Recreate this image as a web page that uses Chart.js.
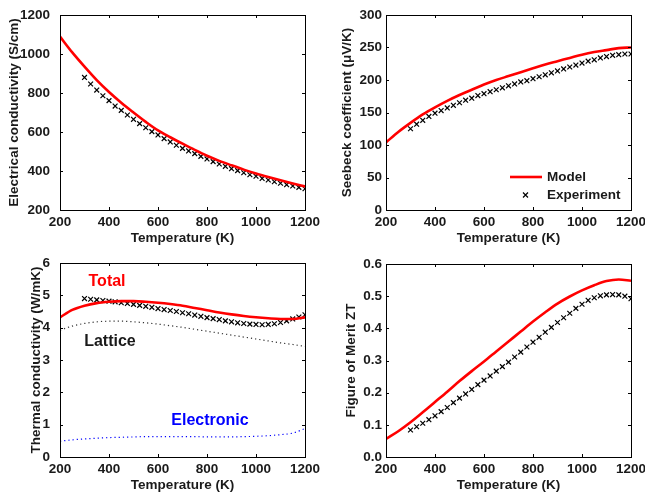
<!DOCTYPE html>
<html>
<head>
<meta charset="utf-8">
<script src="https://cdn.jsdelivr.net/npm/chart.js@4.4.1/dist/chart.umd.min.js"></script>
<style>
    body { margin: 0; background: #fff; width: 645px; height: 494px; position: relative; overflow: hidden; }
    canvas { position: absolute; }
</style>
</head>
<body>
<canvas id="cond" width="325" height="247" style="left:0;top:0"></canvas>
<canvas id="seebeck" width="325" height="247" style="left:320px;top:0"></canvas>
<canvas id="thermal" width="325" height="247" style="left:0;top:247px"></canvas>
<canvas id="zt" width="325" height="247" style="left:320px;top:247px"></canvas>
<script>
// temperatures (K)
var modelT = [200, 250, 300, 350, 400, 450, 500, 550, 600, 650, 700, 750, 800, 850, 900, 950, 1000, 1050, 1100, 1150, 1200];
var expT = [300, 325, 350, 375, 400, 425, 450, 475, 500, 525, 550, 575, 600, 625, 650, 675, 700, 725, 750, 775, 800,
    825, 850, 875, 900, 925, 950, 975, 1000, 1025, 1050, 1075, 1100, 1125, 1150, 1175, 1200];

// electrical conductivity (S/cm)
var condModel = [1089, 1008, 935, 866, 805, 750, 700, 652, 608, 573, 540, 508, 478, 452, 429, 407, 387, 369, 352, 336, 321];
var condExp = [880, 846, 815, 786, 761, 733, 711, 687, 665, 643, 622, 602, 585, 566, 549, 532, 516, 503, 489, 475, 462,
    448, 436, 424, 412, 402, 391, 381, 373, 362, 354, 345, 337, 330, 323, 316, 309];

// seebeck coefficient (uV/K)
var seebeckModel = [104, 120, 134, 147, 158, 168, 177, 185, 193, 200, 206, 212, 218, 224, 229, 234, 239, 243, 246, 249, 250];
var seebeckExp = [125, 132, 138, 144, 149, 153, 157, 161, 165, 169, 172, 176, 179, 182, 185, 188, 191, 194, 197, 199, 202,
    205, 208, 211, 214, 217, 220, 223, 226, 229, 231, 234, 236, 238, 239, 240, 240];

// thermal conductivity (W/mK)
var kTotal = [4.32, 4.55, 4.68, 4.76, 4.80, 4.82, 4.82, 4.80, 4.77, 4.73, 4.68, 4.61, 4.54, 4.47, 4.41, 4.36, 4.32, 4.29, 4.27, 4.27, 4.32];
var kLattice = [3.92, 4.05, 4.13, 4.18, 4.20, 4.20, 4.18, 4.15, 4.11, 4.06, 4.01, 3.95, 3.89, 3.83, 3.77, 3.71, 3.65, 3.59, 3.53, 3.48, 3.42];
var kElectronic = [0.49, 0.53, 0.56, 0.58, 0.60, 0.61, 0.62, 0.63, 0.63, 0.63, 0.63, 0.63, 0.62, 0.62, 0.62, 0.63, 0.64, 0.66, 0.69, 0.74, 0.88];
var kExp = [4.90, 4.88, 4.86, 4.84, 4.82, 4.80, 4.77, 4.75, 4.72, 4.69, 4.66, 4.63, 4.59, 4.56, 4.53, 4.50, 4.46, 4.43, 4.39, 4.35, 4.31,
    4.28, 4.25, 4.21, 4.18, 4.15, 4.13, 4.11, 4.10, 4.09, 4.10, 4.12, 4.16, 4.21, 4.27, 4.33, 4.40];

// figure of merit
var ztModel = [0.056, 0.080, 0.108, 0.139, 0.171, 0.203, 0.236, 0.267, 0.297, 0.328, 0.359, 0.390, 0.421, 0.450, 0.477, 0.499, 0.518, 0.534, 0.547, 0.552, 0.548];
var ztExp = [0.084, 0.094, 0.105, 0.116, 0.128, 0.141, 0.154, 0.169, 0.183, 0.196, 0.210, 0.225, 0.239, 0.252, 0.267, 0.281, 0.295,
    0.311, 0.326, 0.342, 0.357, 0.372, 0.388, 0.403, 0.418, 0.433, 0.447, 0.462, 0.475, 0.487, 0.495, 0.501, 0.504, 0.505, 0.504, 0.500, 0.492];

var FONT = 'Liberation Sans, Arial, Helvetica, sans-serif';
var INK = '#1a1a1a';

function pts(xs, ys) {
    return xs.map(function (x, i) { return {x: x, y: ys[i]}; });
}

function modelLine(label, ys, color, dash) {
    return {
        label: label, data: pts(modelT, ys),
        borderColor: color, borderWidth: dash ? 1.2 : 2.6, borderDash: dash || [],
        pointRadius: 0, cubicInterpolationMode: 'monotone', fill: false
    };
}

function expMarks(ys) {
    return {
        label: 'Experiment', data: pts(expT, ys), showLine: false,
        pointStyle: 'crossRot', pointRadius: 3.4, borderColor: '#000', backgroundColor: '#000', borderWidth: 1.2
    };
}

// matlab style box with inward ticks
var boxTicks = {
    id: 'boxTicks',
    afterDraw: function (chart) {
        var ctx = chart.ctx, a = chart.chartArea, len = 3;
        var xs = chart.scales.x, ys = chart.scales.y;
        ctx.save();
        ctx.strokeStyle = '#000';
        ctx.lineWidth = 1;
        ctx.beginPath();
        xs.ticks.forEach(function (t) {
            var px = Math.round(xs.getPixelForValue(t.value)) + 0.5;
            ctx.moveTo(px, a.bottom); ctx.lineTo(px, a.bottom - len);
            ctx.moveTo(px, a.top); ctx.lineTo(px, a.top + len);
        });
        ys.ticks.forEach(function (t) {
            var py = Math.round(ys.getPixelForValue(t.value)) + 0.5;
            ctx.moveTo(a.left, py); ctx.lineTo(a.left + len, py);
            ctx.moveTo(a.right, py); ctx.lineTo(a.right - len, py);
        });
        ctx.stroke();
        ctx.strokeRect(Math.round(a.left) + 0.5, Math.round(a.top) + 0.5,
            Math.round(a.right - a.left), Math.round(a.bottom - a.top));
        ctx.restore();
    }
};

// legend inside the seebeck plot, bottom right
var innerLegend = {
    id: 'innerLegend',
    afterDraw: function (chart) {
        var ctx = chart.ctx, a = chart.chartArea;
        var sets = chart.data.datasets;
        ctx.save();
        ctx.font = 'bold 13.5px ' + FONT;
        ctx.fillStyle = INK;
        ctx.textBaseline = 'middle';
        sets.forEach(function (ds, i) {
            var y = a.bottom - 33 + i * 18;
            ctx.strokeStyle = ds.borderColor;
            ctx.lineWidth = ds.borderWidth;
            ctx.beginPath();
            if (ds.showLine === false) {
                ctx.moveTo(a.right - 108, y - 2.5); ctx.lineTo(a.right - 103, y + 2.5);
                ctx.moveTo(a.right - 108, y + 2.5); ctx.lineTo(a.right - 103, y - 2.5);
            } else {
                ctx.moveTo(a.right - 121, y); ctx.lineTo(a.right - 89, y);
            }
            ctx.stroke();
            ctx.fillText(ds.label, a.right - 84, y);
        });
        ctx.restore();
    }
};

// curve names in the thermal plot
var thermalNotes = [
    {text: 'Total', x: 392, y: 5.42, color: '#ff0000'},
    {text: 'Lattice', x: 404, y: 3.58, color: INK},
    {text: 'Electronic', x: 812, y: 1.13, color: '#0000ff'}
];
var curveNotes = {
    id: 'curveNotes',
    afterDraw: function (chart) {
        var ctx = chart.ctx, xs = chart.scales.x, ys = chart.scales.y;
        ctx.save();
        ctx.font = 'bold 16px ' + FONT;
        ctx.textAlign = 'center';
        ctx.textBaseline = 'middle';
        thermalNotes.forEach(function (n) {
            ctx.fillStyle = n.color;
            ctx.fillText(n.text, xs.getPixelForValue(n.x), ys.getPixelForValue(n.y));
        });
        ctx.restore();
    }
};

function makeChart(id, cfg) {
    return new Chart(document.getElementById(id), {
        type: 'line',
        data: {datasets: cfg.datasets},
        options: {
            responsive: false,
            animation: false,
            layout: {padding: cfg.padding},
            plugins: {legend: {display: false}, tooltip: {enabled: false}},
            scales: {
                x: {
                    type: 'linear', min: 200, max: 1200,
                    grid: {display: false, drawTicks: false},
                    border: {display: false},
                    ticks: {stepSize: 200, padding: 4, color: INK, font: {family: FONT, size: 13.5, weight: 'bold'},
                        maxRotation: 0, autoSkip: false, callback: function (v) { return String(v); }},
                    title: {display: true, text: 'Temperature (K)', color: INK,
                        font: {family: FONT, size: 13.5, weight: 'bold'}, padding: {top: 0, bottom: 1}},
                    afterFit: function (s) { s.height = 37; s.paddingLeft = 0; s.paddingRight = 0; }
                },
                y: {
                    type: 'linear', min: cfg.yMin, max: cfg.yMax,
                    grid: {display: false, drawTicks: false},
                    border: {display: false},
                    ticks: {stepSize: cfg.yStep, padding: cfg.tickPad, color: INK,
                        font: {family: FONT, size: 13.5, weight: 'bold'},
                        callback: cfg.fmt || function (v) { return String(v); }},
                    title: {display: true, text: cfg.yTitle, color: INK,
                        font: {family: FONT, size: 13.5, weight: 'bold'}, padding: {top: cfg.titlePad, bottom: 0}},
                    afterFit: function (s) { s.width = cfg.yWidth; s.paddingTop = 0; s.paddingBottom = 0; }
                }
            }
        },
        plugins: [boxTicks].concat(cfg.plugins || [])
    });
}

makeChart('cond', {
    datasets: [modelLine('Model', condModel, '#ff0000'), expMarks(condExp)],
    yMin: 200, yMax: 1200, yStep: 200, yWidth: 60, tickPad: 10, titlePad: 6,
    yTitle: 'Electrical conductivity (S/cm)',
    padding: {left: 0, top: 15, right: 20, bottom: 0}
});

makeChart('seebeck', {
    datasets: [modelLine('Model', seebeckModel, '#ff0000'), expMarks(seebeckExp)],
    yMin: 0, yMax: 300, yStep: 50, yWidth: 66, tickPad: 4, titlePad: 19,
    yTitle: 'Seebeck coefficient (\u03bcV/K)',
    padding: {left: 0, top: 15, right: 14, bottom: 0},
    plugins: [innerLegend]
});

makeChart('thermal', {
    datasets: [
        modelLine('Total', kTotal, '#ff0000'),
        modelLine('Lattice', kLattice, '#333', [1.2, 3]),
        modelLine('Electronic', kElectronic, '#0000ff', [1.2, 3]),
        expMarks(kExp)
    ],
    yMin: 0, yMax: 6, yStep: 1, yWidth: 60, tickPad: 10, titlePad: 28,
    yTitle: 'Thermal conductivity (W/mK)',
    padding: {left: 0, top: 16, right: 20, bottom: 0},
    plugins: [curveNotes]
});

makeChart('zt', {
    datasets: [modelLine('Model', ztModel, '#ff0000'), expMarks(ztExp)],
    yMin: 0, yMax: 0.6, yStep: 0.1, yWidth: 66, tickPad: 4, titlePad: 23,
    yTitle: 'Figure of Merit ZT',
    padding: {left: 0, top: 17, right: 14, bottom: 0},
    fmt: function (v) { return v.toFixed(1); }
});
</script>
</body>
</html>
